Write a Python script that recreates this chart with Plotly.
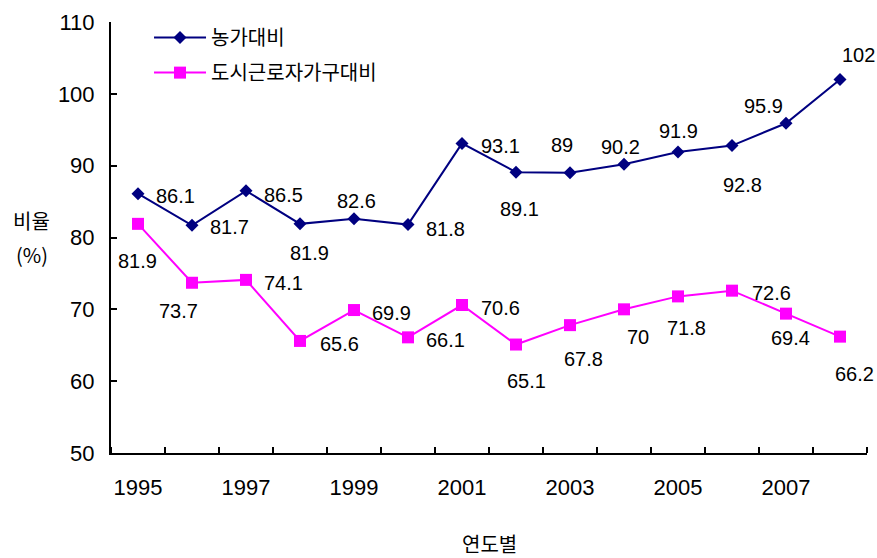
import plotly.graph_objects as go

years = list(range(1995, 2009))
farm = [86.1, 81.7, 86.5, 81.9, 82.6, 81.8, 93.1, 89.1, 89, 90.2, 91.9, 92.8, 95.9, 102]
urban = [81.9, 73.7, 74.1, 65.6, 69.9, 66.1, 70.6, 65.1, 67.8, 70, 71.8, 72.6, 69.4, 66.2]
farm_name = "농가대비"
urban_name = "도시근로자가구대비"
xtick_years = [1995, 1997, 1999, 2001, 2003, 2005, 2007]
ytick_vals = [50, 60, 70, 80, 90, 100, 110]

# label offsets in pixels (style only)
farm_dx = [37, 37, 37, 9, 2, 37, 38, 3, -8, -4, 0, 10, -23, 18]
farm_dy = [2, 2, 4, 29, -18, 4, 3, 37, -28, -17, -21, 39, -17, -24]
urban_dx = [-1, -14, 37, 39, 37, 37, 38, 10, 13, 14, 8, 39, 4, 14]
urban_dy = [37, 28, 3, 3, 3, 3, 3, 36, 34, 28, 32, 2, 24, 37]

NAVY = "#000080"
MAG = "#FF00FF"
FONT = "Liberation Sans, Arial, Noto Sans CJK KR, sans-serif"
KFONT = "Noto Sans CJK KR, Liberation Sans, sans-serif"

fig = go.Figure()
fig.add_trace(go.Scatter(
    x=years, y=farm, name=farm_name, mode="lines+markers",
    line=dict(color=NAVY, width=2),
    marker=dict(symbol="diamond", size=10, color=NAVY),
    legendgroup="a",
))
fig.add_trace(go.Scatter(
    x=years, y=urban, name=urban_name, mode="lines+markers",
    line=dict(color=MAG, width=2),
    marker=dict(symbol="square", size=12, color=MAG),
    legendgroup="b",
))

annos = []
for yr, v, dx, dy in zip(years, farm, farm_dx, farm_dy):
    annos.append(dict(x=yr, y=v, text=f"{v:g}", showarrow=False, xshift=dx, yshift=-dy,
                      font=dict(family=FONT, size=20, color="black")))
for yr, v, dx, dy in zip(years, urban, urban_dx, urban_dy):
    annos.append(dict(x=yr, y=v, text=f"{v:g}", showarrow=False, xshift=dx, yshift=-dy,
                      font=dict(family=FONT, size=20, color="black")))

annos.append(dict(xref="paper", yref="paper", x=-0.1045, y=0.539, text="비율", showarrow=False,
                  xanchor="center", yanchor="middle",
                  font=dict(family=KFONT, size=20, color="black")))
annos.append(dict(xref="paper", yref="paper", x=-0.1045, y=0.461, text="(%)", showarrow=False,
                  xanchor="center", yanchor="middle",
                  font=dict(family=KFONT, size=20, color="black")))
annos.append(dict(xref="paper", yref="paper", x=0.501, y=-0.211, text="연도별", showarrow=False,
                  xanchor="center", yanchor="middle",
                  font=dict(family=KFONT, size=20, color="black")))

fig.update_layout(
    width=877, height=558,
    margin=dict(l=111, r=10, t=17, b=105),
    plot_bgcolor="white", paper_bgcolor="white",
    font=dict(family=FONT, size=22, color="black"),
    showlegend=True,
    legend=dict(x=0.0503, y=1.009, xanchor="left", yanchor="top",
                bgcolor="rgba(0,0,0,0)", font=dict(family=KFONT, size=20),
                itemwidth=52, tracegroupgap=6),
    annotations=annos,
    xaxis=dict(range=[1994.5, 2008.5], tickmode="array", tickvals=xtick_years,
               ticktext=[str(y) for y in xtick_years], ticks="",
               showline=True, linecolor="black", linewidth=2, showgrid=False, zeroline=False,
               ticklabelstandoff=14,
               minor=dict(tick0=1995.5, dtick=1, ticks="inside", ticklen=6, tickwidth=2, tickcolor="black")),
    yaxis=dict(range=[50, 110], tickmode="array", tickvals=ytick_vals, ticks="inside", ticklen=6,
               tickwidth=2, tickcolor="black", showline=True, linecolor="black", linewidth=2,
               showgrid=False, zeroline=False, ticklabelstandoff=10),
)

fig.write_html("out.html", config={"displayModeBar": False},
               post_script="document.body.style.margin='0';document.body.style.overflow='hidden';")
